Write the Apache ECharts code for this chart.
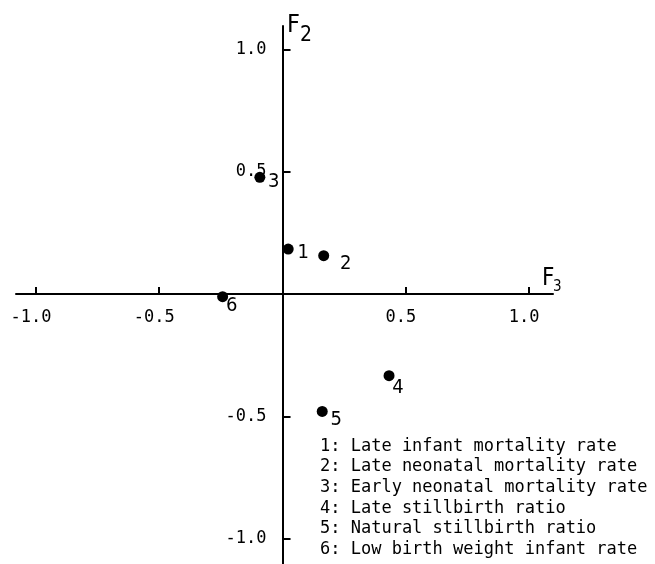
<!DOCTYPE html>
<html>
<head>
<meta charset="utf-8">
<script src="https://cdn.jsdelivr.net/npm/echarts@6/dist/echarts.min.js"></script>
<style>html,body{margin:0;padding:0;background:#fff}#c{width:655px;height:564px}</style>
</head>
<body>
<div id="c"></div>
<script>
// Data
var pointIds = ['1', '2', '3', '4', '5', '6'];
var f3Values = [0.023, 0.167, -0.092, 0.432, 0.161, -0.243];
var f2Values = [0.184, 0.157, 0.477, -0.334, -0.480, -0.011];
var legendLines = [
  '1: Late infant mortality rate',
  '2: Late neonatal mortality rate',
  '3: Early neonatal mortality rate',
  '4: Late stillbirth ratio',
  '5: Natural stillbirth ratio',
  '6: Low birth weight infant rate'
];
var xTickValues = [-1.0, -0.5, 0.5, 1.0];
var yTickValues = [-1.0, -0.5, 0.5, 1.0];

// label placement (style only)
var labelOffsets = [[15, 4], [22, 8], [14, 4], [9, 12], [14, 8], [9, 9]];

var mono = '"DejaVu Sans Mono", monospace';
var narrow = '"Liberation Sans Narrow", "DejaVu Sans Condensed", "Liberation Sans", sans-serif';

var chart = echarts.init(document.getElementById('c'), null, {renderer: 'canvas'});

var data = pointIds.map(function (id, i) {
  return {
    value: [f3Values[i], f2Values[i]],
    name: id,
    label: {offset: labelOffsets[i]}
  };
});

var gridTop = 26, gridBottom = 0, gridLeft = 16, gridRight = 102;

chart.setOption({
  backgroundColor: '#fff',
  animation: false,
  grid: {left: gridLeft, right: gridRight, top: gridTop, bottom: gridBottom, containLabel: false, outerBoundsMode: 'none'},
  xAxis: {
    type: 'value',
    position: 'bottom',
    min: -1.081, max: 1.097,
    splitLine: {show: false},
    axisLine: {onZero: false, lineStyle: {color: '#000', width: 2}},
    axisTick: {show: true, inside: true, length: 7, lineStyle: {color: '#000', width: 2}, customValues: xTickValues},
    axisLabel: {
      customValues: xTickValues,
      formatter: function (v) { return v.toFixed(1); },
      color: '#000', fontFamily: mono, fontSize: 17, margin: 15,
      padding: [0, 10, 0, 0]
    }
  },
  yAxis: {
    type: 'value',
    position: 'left',
    min: -1.104, max: 1.096,
    splitLine: {show: false},
    axisLine: {onZero: false, lineStyle: {color: '#000', width: 2}},
    axisTick: {show: true, inside: true, length: 8, lineStyle: {color: '#000', width: 2}, customValues: yTickValues},
    axisLabel: {
      customValues: yTickValues,
      formatter: function (v) { return v.toFixed(1); },
      color: '#000', fontFamily: mono, fontSize: 17, margin: 16,
      padding: [0, 0, 12, 0]
    }
  },
  series: [{
    type: 'scatter',
    symbol: 'circle',
    symbolSize: 11,
    itemStyle: {color: '#000', opacity: 1},
    label: {
      show: true,
      position: 'inside',
      formatter: function (p) { return p.name; },
      color: '#000',
      opacity: 1,
      fontFamily: narrow,
      fontSize: 20
    },
    emphasis: {disabled: true},
    data: data
  }],
  graphic: [
    {type: 'text', left: 287, top: 13, style: {text: 'F', font: '25px ' + narrow, fill: '#000'}},
    {type: 'text', left: 300, top: 25, style: {text: '2', font: '21px ' + narrow, fill: '#000'}},
    {type: 'text', left: 542, top: 267, style: {text: 'F', font: '24px ' + narrow, fill: '#000'}},
    {type: 'text', left: 553, top: 280, style: {text: '3', font: '15px ' + narrow, fill: '#000'}},
    {type: 'text', left: 320, top: 436, style: {text: legendLines.join('\n'), font: '17px ' + mono, lineHeight: 20.6, fill: '#000'}}
  ]
});

// Move the axes so they cross at the origin (computed through the chart's own scales)
var origin = chart.convertToPixel({gridIndex: 0}, [0, 0]);
var H = chart.getHeight();
chart.setOption({
  xAxis: {offset: -((H - gridBottom) - origin[1])},
  yAxis: {offset: -(origin[0] - gridLeft)}
});
</script>
</body>
</html>
